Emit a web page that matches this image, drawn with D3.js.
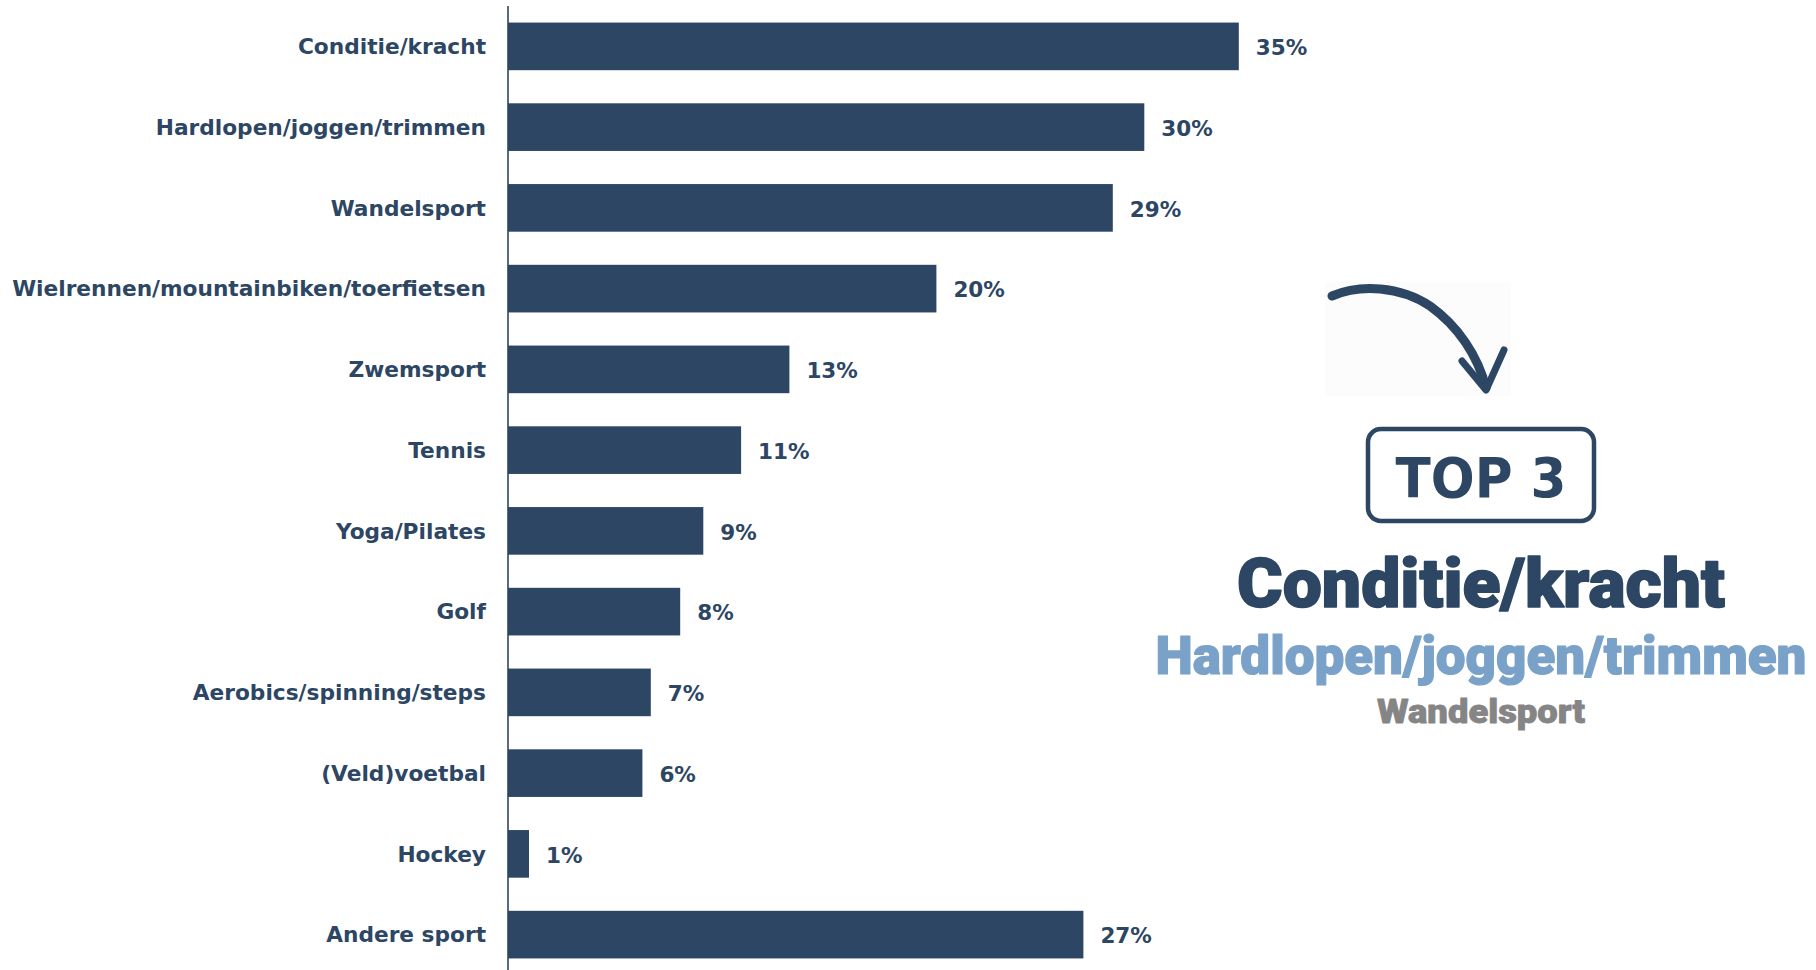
<!DOCTYPE html>
<html>
<head>
<meta charset="utf-8">
<script src="https://cdn.jsdelivr.net/npm/d3@7"></script>
<style>
  html, body { margin: 0; padding: 0; background: #ffffff; }
  svg { display: block; }
</style>
</head>
<body>
<svg id="chart" width="1816" height="970"></svg>
<script>
// ---- data ----
const categories = [
  "Conditie/kracht",
  "Hardlopen/joggen/trimmen",
  "Wandelsport",
  "Wielrennen/mountainbiken/toerfietsen",
  "Zwemsport",
  "Tennis",
  "Yoga/Pilates",
  "Golf",
  "Aerobics/spinning/steps",
  "(Veld)voetbal",
  "Hockey",
  "Andere sport"
];
const values = [34.8, 30.3, 28.8, 20.4, 13.4, 11.1, 9.3, 8.2, 6.8, 6.4, 1.0, 27.4];
const valueLabels = ["35%", "30%", "29%", "20%", "13%", "11%", "9%", "8%", "7%", "6%", "1%", "27%"];
const top3 = ["Conditie/kracht", "Hardlopen/joggen/trimmen", "Wandelsport"];
const top3Title = "TOP 3";

// ---- drawing ----
const navy = "#2c4664";
const svg = d3.select("#chart");

const x = d3.scaleLinear().domain([0, 40]).range([508, 508 + 840]);
const y = d3.scaleBand().domain(categories).range([6, 975])
  .paddingInner(0.41).paddingOuter(0.205);

// bars
svg.append("g").selectAll("rect")
  .data(categories)
  .join("rect")
  .attr("x", x(0))
  .attr("y", d => y(d))
  .attr("width", (d, i) => x(values[i]) - x(0))
  .attr("height", y.bandwidth())
  .attr("fill", navy);

// axis (category labels)
const yAxis = d3.axisLeft(y).tickSize(0).tickPadding(22);
const gAxis = svg.append("g")
  .attr("transform", `translate(${x(0)},0)`)
  .call(yAxis);
gAxis.select(".domain")
  .attr("d", `M0,6V970`)
  .attr("stroke", navy)
  .attr("stroke-width", 1.6);
gAxis.selectAll(".tick text")
  .attr("fill", navy)
  .attr("font-family", "'DejaVu Sans', Verdana, sans-serif")
  .attr("font-weight", "bold")
  .attr("font-size", "21.7px")
  .attr("dy", "0.36em");

// value labels
svg.append("g").selectAll("text")
  .data(categories)
  .join("text")
  .attr("x", (d, i) => x(values[i]) + 17)
  .attr("y", d => y(d) + y.bandwidth() / 2 + 1)
  .attr("dy", "0.36em")
  .attr("fill", navy)
  .attr("font-family", "'DejaVu Sans', Verdana, sans-serif")
  .attr("font-weight", "bold")
  .attr("font-size", "21.5px")
  .text((d, i) => valueLabels[i]);

// ---- annotation: arrow ----
const ann = svg.append("g");
ann.append("rect")
  .attr("x", 1325).attr("y", 282).attr("width", 186).attr("height", 114)
  .attr("fill", "#fcfcfc");
ann.append("path")
  .attr("d", "M1332,296 C1360,284 1400,286 1430,306 C1458,326 1478,356 1486,388")
  .attr("fill", "none").attr("stroke", navy)
  .attr("stroke-width", 9).attr("stroke-linecap", "round");
ann.append("path")
  .attr("d", "M1462,361 L1486,390 L1504,350")
  .attr("fill", "none").attr("stroke", navy)
  .attr("stroke-width", 7).attr("stroke-linecap", "round").attr("stroke-linejoin", "round");

// TOP 3 box
const cx = 1481;
ann.append("rect")
  .attr("x", 1368).attr("y", 429).attr("width", 226).attr("height", 92)
  .attr("rx", 13).attr("ry", 13)
  .attr("fill", "none").attr("stroke", navy).attr("stroke-width", 4.5);
ann.append("text")
  .attr("x", cx).attr("y", 497)
  .attr("text-anchor", "middle")
  .attr("font-family", "'DejaVu Sans', Verdana, sans-serif")
  .attr("font-weight", "bold").attr("font-size", "55px")
  .attr("fill", navy)
  .attr("textLength", 171).attr("lengthAdjust", "spacingAndGlyphs")
  .text(top3Title);

const topStyles = [
  {y: 607, size: 68, color: navy, w: 488, sw: 1.6},
  {y: 674, size: 53, color: "#7aa2c9", w: 651, sw: 1.2},
  {y: 723, size: 33, color: "#858585", w: 208, sw: 0.8}
];
ann.selectAll("text.top")
  .data(top3)
  .join("text")
  .attr("class", "top")
  .attr("x", cx)
  .attr("y", (d, i) => topStyles[i].y)
  .attr("text-anchor", "middle")
  .attr("font-family", "Roboto, 'Liberation Sans Narrow', sans-serif")
  .attr("font-weight", 900)
  .attr("font-size", (d, i) => topStyles[i].size + "px")
  .attr("fill", (d, i) => topStyles[i].color)
  .attr("stroke", (d, i) => topStyles[i].color)
  .attr("stroke-width", (d, i) => topStyles[i].sw)
  .attr("stroke-linejoin", "round")
  .attr("textLength", (d, i) => topStyles[i].w)
  .attr("lengthAdjust", "spacingAndGlyphs")
  .text(d => d);
</script>
</body>
</html>
